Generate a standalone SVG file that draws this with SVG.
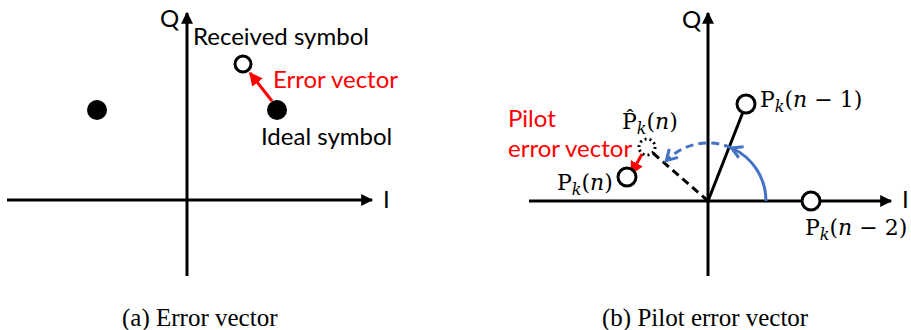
<svg xmlns="http://www.w3.org/2000/svg" width="911" height="330" viewBox="0 0 911 330">
<style>
.ax{stroke:#000;stroke-width:3;fill:none}
.lbl{font-family:Lato,"Liberation Sans",sans-serif;font-size:24px;fill:#000}
.red{fill:#ff0000}
.math{font-family:"DejaVu Serif","Liberation Serif",serif;font-size:22px;fill:#000}
.it{font-style:italic}
.cap{font-family:"Liberation Serif",serif;font-size:25px;fill:#000}
.open{fill:#fff;stroke:#000;stroke-width:3}
</style>
<defs>
<marker id="ah" viewBox="0 0 10 10" refX="9" refY="5" markerWidth="5" markerHeight="4" orient="auto" markerUnits="strokeWidth">
<path d="M0,0 L10,5 L0,10 z" fill="#000"/>
</marker>
<marker id="rh" viewBox="0 0 10 10" refX="9" refY="5" markerWidth="4.5" markerHeight="4.5" orient="auto" markerUnits="strokeWidth">
<path d="M0,0 L10,5 L0,10 z" fill="#ff0000"/>
</marker>
<marker id="bh" viewBox="0 0 10 10" refX="8" refY="5" markerWidth="5" markerHeight="5" orient="auto" markerUnits="strokeWidth">
<path d="M1,1 L8,5 L1,9" fill="none" stroke="#4472C4" stroke-width="2"/>
</marker>
</defs>

<g id="panel-a-axes">
<line class="ax" x1="187" y1="276" x2="187" y2="13" marker-end="url(#ah)"/>
<line class="ax" x1="7" y1="200" x2="372" y2="200" marker-end="url(#ah)"/>
<text class="lbl" x="160" y="27">Q</text>
<text class="lbl" x="383" y="208">I</text>
</g>
<g id="ideal-left"><circle cx="97" cy="110" r="10" fill="#000"/></g>
<g id="ideal-symbol">
<circle cx="277" cy="110" r="10" fill="#000"/>
<text class="lbl" x="261" y="145">Ideal symbol</text>
</g>
<g id="received-symbol">
<circle class="open" cx="243" cy="64" r="8"/>
<text class="lbl" x="193" y="45">Received symbol</text>
</g>
<g id="connectors-a">
<line x1="272" y1="101" x2="250" y2="73" stroke="#ff0000" stroke-width="3" marker-end="url(#rh)"/>
<text class="lbl red" x="273" y="88">Error vector</text>
</g>

<g id="panel-b-axes">
<line class="ax" x1="708" y1="276" x2="708" y2="13" marker-end="url(#ah)"/>
<line class="ax" x1="529" y1="201" x2="891" y2="201" marker-end="url(#ah)"/>
<text class="lbl" x="682" y="28">Q</text>
<text class="lbl" x="902" y="208">I</text>
</g>
<g id="connectors-b">
<line x1="708" y1="201" x2="743" y2="112" stroke="#000" stroke-width="3"/>
<line x1="708" y1="201" x2="653" y2="153" stroke="#000" stroke-width="3" stroke-dasharray="8,5"/>
<path d="M766,201 A58,58 0 0 0 731.6,148" fill="none" stroke="#4472C4" stroke-width="3" marker-end="url(#bh)"/>
<path d="M731.6,148 A58,58 0 0 0 666.3,160.7" fill="none" stroke="#4472C4" stroke-width="3" stroke-dasharray="8,5" marker-end="url(#bh)"/>
<line x1="642" y1="154" x2="631" y2="174" stroke="#ff0000" stroke-width="3" marker-end="url(#rh)"/>
</g>
<g id="p-n-1">
<circle class="open" cx="746" cy="104" r="9"/>
<text class="math" x="760" y="107">P<tspan class="it" font-size="16" dy="5">k</tspan><tspan dy="-5">(</tspan><tspan class="it">n</tspan> − 1)</text>
</g>
<g id="p-n-2">
<circle class="open" cx="811" cy="201" r="9"/>
<text class="math" x="805" y="235">P<tspan class="it" font-size="16" dy="5">k</tspan><tspan dy="-5">(</tspan><tspan class="it">n</tspan> − 2)</text>
</g>
<g id="p-hat">
<circle cx="647" cy="147" r="8" fill="#fff" stroke="#000" stroke-width="3" stroke-dasharray="2,3"/>
<text class="math" x="622" y="129">P̂<tspan class="it" font-size="16" dy="5">k</tspan><tspan dy="-5">(</tspan><tspan class="it">n</tspan>)</text>
</g>
<g id="p-n">
<circle class="open" cx="627" cy="177" r="9"/>
<text class="math" x="557" y="190">P<tspan class="it" font-size="16" dy="5">k</tspan><tspan dy="-5">(</tspan><tspan class="it">n</tspan>)</text>
</g>
<g id="pilot-label">
<text class="lbl red" x="508" y="127">Pilot</text>
<text class="lbl red" x="508" y="157">error vector</text>
</g>

<text class="cap" x="122" y="326">(a) Error vector</text>
<text class="cap" x="602" y="326">(b) Pilot error vector</text>
</svg>
